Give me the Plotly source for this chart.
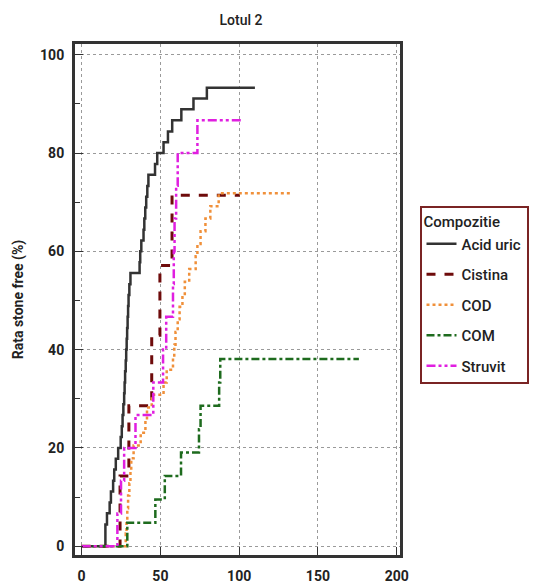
import plotly.graph_objects as go

# Acid uric
acid_x = [0, 15.1, 16.1, 17.8, 18.6, 20.0, 20.7, 21.7, 23.2, 24.8, 25.5, 26.0, 26.5, 27.0, 27.3, 27.6,
          28.0, 28.3, 28.6, 28.9, 29.2, 29.5, 29.8, 30.3, 31.0, 36.8, 37.2, 37.9, 39.3, 39.8, 40.4,
          41.0, 41.7, 42.4, 46.6, 48.0, 52.0, 54.8, 57.5, 63.3, 71.0, 79.5, 110.0]
acid_y = [0, 4.4, 6.7, 8.9, 11.1, 13.3, 15.6, 17.8, 20.0, 22.2, 24.4, 26.7, 28.9, 31.1, 33.3, 35.6,
          37.8, 40.0, 42.2, 44.4, 46.7, 48.9, 51.1, 53.3, 55.6, 57.8, 60.0, 62.2, 64.4, 66.7, 68.9,
          71.1, 73.3, 75.6, 77.8, 80.0, 82.2, 84.4, 86.7, 88.9, 91.1, 93.3, 93.3]

# Cistina
cist_x = [0, 24.4, 30.0, 44.5, 49.7, 57.4, 100.4]
cist_y = [0, 14.3, 28.6, 42.9, 57.1, 71.4, 71.4]

# COD
cod_x = [0, 28.0, 28.5, 29.0, 29.5, 30.3, 31.0, 31.5, 33.0, 37.5, 40.5, 41.5, 44.5, 52.0, 54.0,
         58.0, 58.8, 59.6, 61.0, 62.2, 64.0, 65.5, 68.3, 72.4, 73.5, 75.5, 78.6, 81.7, 87.0, 132.5]
cod_y = [0, 2.6, 5.1, 7.7, 10.3, 12.8, 15.4, 17.9, 20.5, 23.1, 25.6, 28.2, 30.8, 33.3, 35.9,
         38.5, 41.0, 43.6, 46.2, 48.7, 51.3, 53.8, 56.4, 59.0, 61.5, 64.1, 66.7, 69.2, 71.8, 71.8]

# COM
com_x = [0, 29.0, 46.8, 52.8, 63.1, 74.5, 75.5, 87.3, 88.0, 176.0]
com_y = [0, 4.76, 9.52, 14.29, 19.05, 23.81, 28.57, 33.33, 38.1, 38.1]

# Struvit
str_x = [0, 22.7, 25.0, 27.0, 34.2, 45.5, 51.7, 53.7, 58.0, 58.5, 59.0, 60.0, 61.0, 73.5, 102.0]
str_y = [0, 6.67, 13.33, 20.0, 26.67, 33.33, 40.0, 46.67, 53.33, 60.0, 66.67, 73.33, 80.0, 86.67, 86.67]

x_ticks = [0, 50, 100, 150, 200]
y_ticks = [0, 20, 40, 60, 80, 100]

FONT = "Roboto, Arial, sans-serif"

series = [
    ("Acid uric", acid_x, acid_y, "#333333", "solid", 2.5),
    ("Cistina", cist_x, cist_y, "#6E0B0B", "dash", 3),
    ("COD", cod_x, cod_y, "#F0903A", "dot", 2.5),
    ("COM", com_x, com_y, "#1E6B1E", "8px,3px,3px,3px", 2.5),
    ("Struvit", str_x, str_y, "#E01FE0", "9px,3px,3px,3px,3px,3px", 2.5),
]

fig = go.Figure()
for name, xs, ys, col, dash, w in series:
    fig.add_trace(go.Scatter(x=xs, y=ys, name=name, mode="lines", legendgroup=name,
                             line=dict(shape="hv", color=col, dash=dash, width=w)))

fig.update_layout(
    width=541, height=585,
    margin=dict(l=75, r=134, t=44, b=30),
    paper_bgcolor="white", plot_bgcolor="white",
    font=dict(family=FONT, color="#222222"),
    title=dict(text="Lotul 2", x=241 / 541, xanchor="center", y=1 - 20 / 585, yanchor="middle",
               font=dict(size=14, family=FONT, color="#222222", weight=500)),
    legend=dict(x=1.06, y=0.683, xanchor="left", yanchor="top",
                bordercolor="#7A2424", borderwidth=2, bgcolor="white",
                font=dict(size=15, family=FONT, color="#222222", weight=500),
                title=dict(text="Compozitie", font=dict(size=15, family=FONT, color="#222222", weight=500)),
                tracegroupgap=8),
)
fig.update_xaxes(range=[-4.2, 202.1], tickvals=x_ticks, showline=True, linewidth=3,
                 linecolor="#333333", mirror=True, ticks="inside", ticklen=8, tickcolor="#333333",
                 showgrid=True, gridcolor="#9a9a9a", griddash="dot", gridwidth=1, zeroline=False,
                 automargin=False,
                 tickfont=dict(size=14, family=FONT, weight="bold"), ticklabelstandoff=6)
fig.update_yaxes(range=[-1.8, 102.2], tickvals=y_ticks, showline=True, linewidth=3,
                 linecolor="#333333", mirror=True, ticks="inside", ticklen=8, tickcolor="#333333",
                 showgrid=True, gridcolor="#9a9a9a", griddash="dot", gridwidth=1, zeroline=False,
                 automargin=False,
                 tickfont=dict(size=14, family=FONT, weight="bold"), ticklabelstandoff=5,
                 minor=dict(tickvals=[10, 30, 50, 70, 90], ticks="inside", ticklen=5,
                            tickcolor="#333333", showgrid=False),
                 title=dict(text="Rata stone free (%)", standoff=14,
                            font=dict(size=14, family=FONT, weight="bold")))

fig.write_html("out.html")
